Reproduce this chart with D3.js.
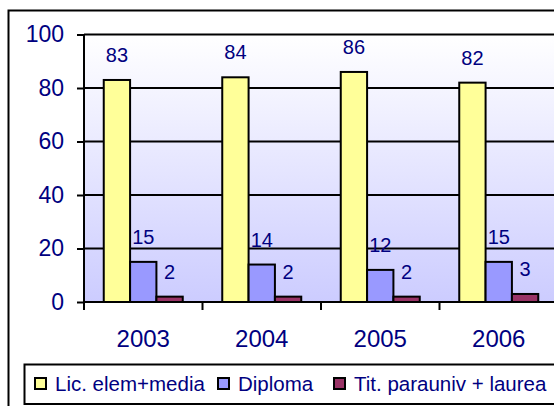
<!DOCTYPE html>
<html>
<head>
<meta charset="utf-8">
<script src="https://cdn.jsdelivr.net/npm/d3@7"></script>
<style>
  body { margin: 0; background: #fff; }
  text { font-family: Arial, "Liberation Sans", sans-serif; fill: #000080; }
</style>
</head>
<body>
<script>
// Data
var years = ["2003", "2004", "2005", "2006"];
var seriesNames = ["Lic. elem+media", "Diploma", "Tit. parauniv + laurea"];
var licElem = [83, 84, 86, 82];
var diploma = [15, 14, 12, 15];
var titParauniv = [2, 2, 2, 3];
var yTicks = [0, 20, 40, 60, 80, 100];
var colors = ["#ffff99", "#9999ff", "#993366"];

var width = 554, height = 406;
var plotLeft = 84, plotRight = 558, plotTop = 34.5, plotBottom = 302;

var svg = d3.select("body").append("svg")
  .attr("width", width)
  .attr("height", height);

// gradient background for the plot area
var grad = svg.append("defs").append("linearGradient")
  .attr("id", "bg").attr("x1", 0).attr("y1", 0).attr("x2", 0).attr("y2", 1);
grad.append("stop").attr("offset", "0%").attr("stop-color", "#ffffff");
grad.append("stop").attr("offset", "100%").attr("stop-color", "#ccccff");

// outer frame
svg.append("rect")
  .attr("x", 8.5).attr("y", 10.5)
  .attr("width", 600).attr("height", 420)
  .attr("fill", "none").attr("stroke", "#000").attr("stroke-width", 2);

var x = d3.scaleBand().domain(years).range([plotLeft, plotRight]);
var barW = x.bandwidth() / 4.5;
var xs = d3.scaleBand().domain([0, 1, 2])
  .range([0, barW * 3]);
var y = d3.scaleLinear().domain([0, 100]).range([plotBottom, plotTop]);

svg.append("rect")
  .attr("x", plotLeft).attr("y", plotTop)
  .attr("width", plotRight - plotLeft).attr("height", plotBottom - plotTop)
  .attr("fill", "url(#bg)");

// gridlines
svg.append("g")
  .selectAll("line")
  .data(yTicks.slice(1))
  .enter().append("line")
  .attr("x1", plotLeft).attr("x2", plotRight)
  .attr("y1", function(d){ return y(d); })
  .attr("y2", function(d){ return y(d); })
  .attr("stroke", "#000").attr("stroke-width", 2);

// bars
var data = [licElem, diploma, titParauniv];
var groups = svg.selectAll(".year")
  .data(years)
  .enter().append("g")
  .attr("transform", function(d){
    return "translate(" + (x(d) + (x.bandwidth() - barW * 3) / 2) + ",0)";
  });

groups.each(function(yr, i) {
  var g = d3.select(this);
  data.forEach(function(s, k) {
    g.append("rect")
      .attr("x", xs(k))
      .attr("y", y(s[i]))
      .attr("width", barW)
      .attr("height", plotBottom - y(s[i]))
      .attr("fill", colors[k])
      .attr("stroke", "#000")
      .attr("stroke-width", 2);
    g.append("text")
      .attr("x", xs(k) + barW / 2)
      .attr("y", y(s[i]) - 18)
      .attr("text-anchor", "middle")
      .style("font-size", "20px")
      .text(s[i]);
  });
});

// y axis
var yAxis = d3.axisLeft(y).tickValues(yTicks).tickSize(7).tickPadding(13);
var ya = svg.append("g")
  .attr("transform", "translate(" + plotLeft + ",0)")
  .call(yAxis);
ya.attr("font-family", null);
ya.select(".domain").attr("stroke-width", 2).attr("d", "M0," + plotTop + "V" + plotBottom);
ya.selectAll(".tick line").attr("stroke-width", 2);
ya.selectAll("text").style("font-size", "23px").attr("fill", "#000080");

// x axis
var xa = svg.append("g").attr("transform", "translate(0," + plotBottom + ")");
xa.append("line").attr("x1", plotLeft).attr("x2", plotRight)
  .attr("stroke", "#000").attr("stroke-width", 2);
xa.selectAll(".xt")
  .data(years)
  .enter().append("line")
  .attr("x1", function(d){ return x(d); })
  .attr("x2", function(d){ return x(d); })
  .attr("y1", 0).attr("y2", 8)
  .attr("stroke", "#000").attr("stroke-width", 2);
xa.selectAll(".xl")
  .data(years)
  .enter().append("text")
  .attr("x", function(d){ return x(d) + x.bandwidth() / 2; })
  .attr("y", 45)
  .attr("text-anchor", "middle")
  .style("font-size", "24px")
  .text(function(d){ return d; });

// legend
svg.append("rect")
  .attr("x", 24.5).attr("y", 364.5)
  .attr("width", 600).attr("height", 39.5)
  .attr("fill", "#fff").attr("stroke", "#000").attr("stroke-width", 2);

var legendX = [35, 218, 334];
var leg = svg.selectAll(".leg")
  .data(seriesNames)
  .enter().append("g")
  .attr("transform", function(d, i){ return "translate(" + legendX[i] + ",378)"; });
leg.append("rect")
  .attr("width", 11).attr("height", 11)
  .attr("fill", function(d, i){ return colors[i]; })
  .attr("stroke", "#000").attr("stroke-width", 2);
leg.append("text")
  .attr("x", 20).attr("y", 13)
  .style("font-size", "20.5px")
  .text(function(d){ return d; });
</script>
</body>
</html>
